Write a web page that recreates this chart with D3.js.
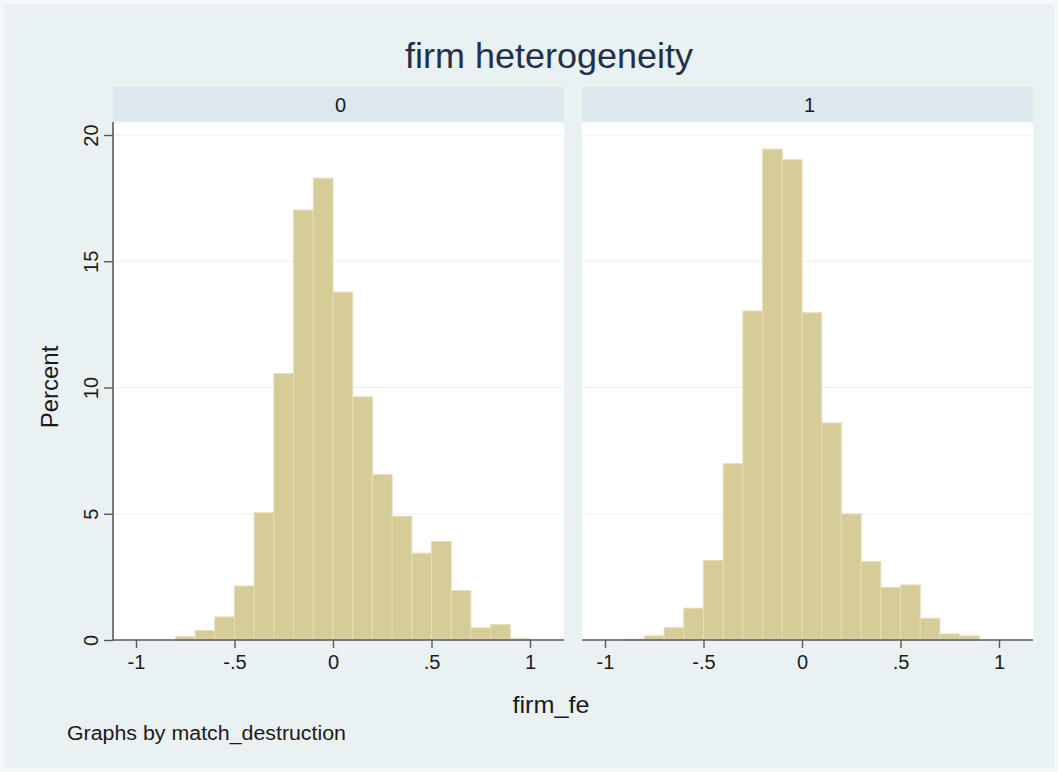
<!DOCTYPE html>
<html>
<head>
<meta charset="utf-8">
<script src="https://cdn.jsdelivr.net/npm/d3@7"></script>
<style>
  html, body { margin: 0; padding: 0; background: #f4f8f9; }
  svg { display: block; font-family: "Liberation Sans", Arial, Helvetica, sans-serif; }
</style>
</head>
<body>
<svg id="chart" width="1058" height="772"></svg>
<script>
// ---- data ----
const title = "firm heterogeneity";
const panelLabels = ["0", "1"];
const binStarts = [-1.0, -0.9, -0.8, -0.7, -0.6, -0.5, -0.4, -0.3, -0.2, -0.1,
                    0.0,  0.1,  0.2,  0.3,  0.4,  0.5,  0.6,  0.7,  0.8,  0.9];
const binWidth = 0.1;
const percent0 = [0, 0, 0.13, 0.38, 0.91, 2.14, 5.04, 10.55, 17.03, 18.29,
                  13.78, 9.63, 6.55, 4.90, 3.44, 3.90, 1.96, 0.48, 0.61, 0.06];
const percent1 = [0, 0.04, 0.16, 0.49, 1.26, 3.15, 6.98, 13.03, 19.44, 19.02,
                  12.96, 8.60, 4.99, 3.11, 2.08, 2.18, 0.86, 0.24, 0.16, 0];
const xTicks = [-1, -0.5, 0, 0.5, 1];
const xTickLabels = ["-1", "-.5", "0", ".5", "1"];
const yTicks = [0, 5, 10, 15, 20];
const yTickLabels = ["0", "5", "10", "15", "20"];
const xTitle = "firm_fe";
const yTitle = "Percent";
const note = "Graphs by match_destruction";

// ---- layout ----
const svg = d3.select("#chart");
const W = 1058, H = 772;
const bg = "#e9f1f2", stripFill = "#dce8ed", barFill = "#d5cc98", barStroke = "#e4ddb6";
const textCol = "#1a1a1a", axisCol = "#5a5a5a";

svg.append("rect").attr("x", 4).attr("y", 4).attr("width", W - 8).attr("height", H - 8).attr("fill", bg);

const plotTop = 123, plotBottom = 640;
const stripTop = 87, stripBottom = 121;
const panels = [
  {label: panelLabels[0], data: percent0, left: 113, right: 564},
  {label: panelLabels[1], data: percent1, left: 582, right: 1033}
];
const y = d3.scaleLinear().domain([0, 20]).range([plotBottom, 135]);

// title
svg.append("text")
  .attr("x", 549).attr("y", 68)
  .attr("text-anchor", "middle")
  .attr("font-size", 35).attr("fill", "#22304a")
  .attr("textLength", 288).attr("lengthAdjust", "spacingAndGlyphs")
  .text(title);

panels.forEach((p, pi) => {
  const x = d3.scaleLinear().domain([-1, 1]).range([p.left + 23, p.right - 34]);
  const g = svg.append("g");

  // strip
  g.append("rect").attr("x", p.left).attr("y", stripTop)
    .attr("width", p.right - p.left).attr("height", stripBottom - stripTop)
    .attr("fill", stripFill);
  g.append("text")
    .attr("x", (p.left + p.right) / 2 + 2).attr("y", 112)
    .attr("text-anchor", "middle").attr("font-size", 20).attr("fill", textCol)
    .text(p.label);

  // plot region
  g.append("rect").attr("x", p.left).attr("y", plotTop)
    .attr("width", p.right - p.left).attr("height", plotBottom - plotTop)
    .attr("fill", "#ffffff");

  // gridlines
  g.selectAll("line.grid").data(yTicks.filter(d => d > 0)).enter().append("line")
    .attr("x1", p.left + 1).attr("x2", p.right - 1)
    .attr("y1", d => y(d)).attr("y2", d => y(d))
    .attr("stroke", "#eaf0f2").attr("stroke-width", 1.2);

  // bars
  g.selectAll("rect.bar").data(p.data.map((v, i) => ({x0: binStarts[i], v})))
    .enter().append("rect")
    .attr("x", d => x(d.x0))
    .attr("width", d => x(d.x0 + binWidth) - x(d.x0))
    .attr("y", d => y(d.v))
    .attr("height", d => y(0) - y(d.v))
    .attr("fill", barFill)
    .attr("stroke", d => d.v > 0 ? barStroke : "none")
    .attr("stroke-width", 1);

  // x axis
  const xAxis = d3.axisBottom(x).tickValues(xTicks)
    .tickFormat((d, i) => xTickLabels[i]).tickSize(8).tickSizeOuter(0);
  const ax = g.append("g").attr("transform", `translate(0,${plotBottom})`).call(xAxis);
  ax.select(".domain").remove();
  ax.selectAll(".tick line").attr("stroke", axisCol).attr("stroke-width", 1.4);
  ax.selectAll(".tick text")
    .attr("y", 29).attr("dy", null)
    .attr("font-size", 20).attr("font-family", null).attr("fill", textCol);
  g.append("line").attr("x1", p.left).attr("x2", p.right)
    .attr("y1", plotBottom).attr("y2", plotBottom)
    .attr("stroke", axisCol).attr("stroke-width", 1.6);

  // y axis only on the first panel
  if (pi === 0) {
    const yAxis = d3.axisLeft(y).tickValues(yTicks)
      .tickFormat((d, i) => yTickLabels[i]).tickSize(9).tickSizeOuter(0);
    const ay = g.append("g").attr("transform", `translate(${p.left},0)`).call(yAxis);
    ay.select(".domain").remove();
    ay.selectAll(".tick line").attr("stroke", axisCol).attr("stroke-width", 1.4);
    ay.selectAll(".tick text")
      .attr("x", null).attr("dy", null)
      .attr("transform", "translate(-15,0) rotate(-90)")
      .attr("text-anchor", "middle").attr("font-size", 20)
      .attr("font-family", null).attr("fill", textCol);
    g.append("line").attr("x1", p.left).attr("x2", p.left)
      .attr("y1", stripBottom + 1).attr("y2", plotBottom)
      .attr("stroke", axisCol).attr("stroke-width", 1.6);
  }
});

// axis titles
svg.append("text")
  .attr("transform", "translate(58,387) rotate(-90)")
  .attr("text-anchor", "middle").attr("font-size", 24).attr("fill", textCol)
  .text(yTitle);
svg.append("text")
  .attr("x", 551).attr("y", 713)
  .attr("text-anchor", "middle").attr("font-size", 24).attr("fill", textCol)
  .attr("textLength", 77).attr("lengthAdjust", "spacingAndGlyphs")
  .text(xTitle);

// note
svg.append("text")
  .attr("x", 67).attr("y", 740)
  .attr("font-size", 20).attr("fill", textCol)
  .attr("textLength", 279).attr("lengthAdjust", "spacingAndGlyphs")
  .text(note);
</script>
</body>
</html>
